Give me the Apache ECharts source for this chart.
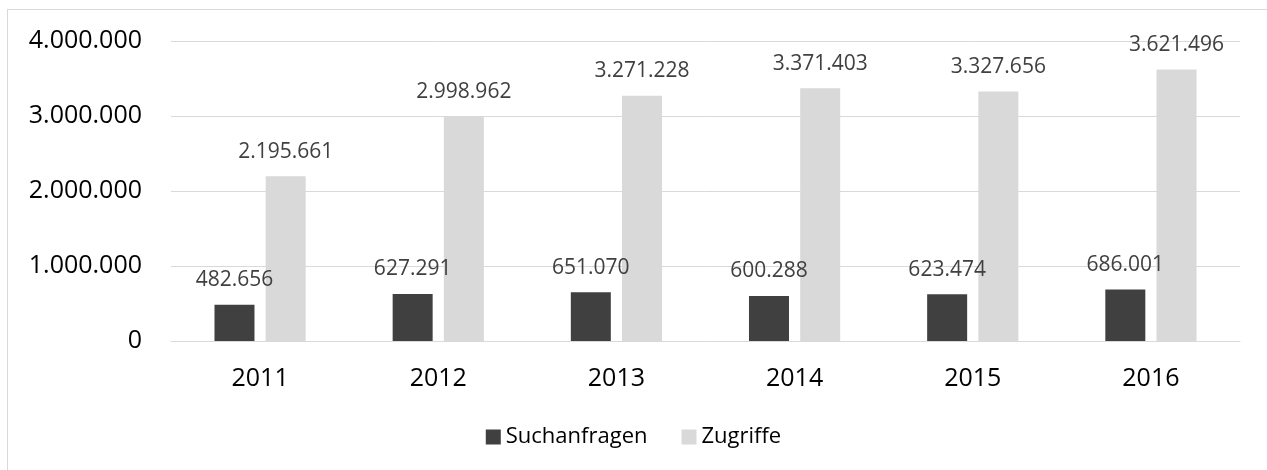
<!DOCTYPE html>
<html>
<head>
<meta charset="utf-8">
<script src="https://cdn.jsdelivr.net/npm/echarts@6/dist/echarts.min.js"></script>
<style>
  html, body { margin: 0; padding: 0; background: #fff; }
  #frame { position: absolute; left: 7px; top: 9px; width: 1300px; height: 520px; border: 1px solid #d9d9d9; }
  #main { position: absolute; left: 0; top: 0; width: 1267px; height: 470px; }
</style>
</head>
<body>
<div id="frame"></div>
<div id="main"></div>
<script>
var years = ['2011', '2012', '2013', '2014', '2015', '2016'];
var suchanfragen = [482656, 627291, 651070, 600288, 623474, 686001];
var zugriffe = [2195661, 2998962, 3271228, 3371403, 3327656, 3621496];

function fmt(v) {
  return String(v).replace(/\B(?=(\d{3})+(?!\d))/g, '.');
}

var font = 'Open Sans';
var chart = echarts.init(document.getElementById('main'));

var labelStyle = {
  show: true,
  position: 'top',
  distance: 14,
  color: '#404040',
  fontSize: 21,
  fontFamily: font,
  formatter: function (p) { return fmt(p.value); }
};

var option = {
  animation: false,
  grid: { left: 171, right: 27, top: 41, bottom: 129 },
  legend: {
    bottom: 17,
    left: 'center',
    itemWidth: 15,
    itemHeight: 15,
    itemGap: 34,
    icon: 'rect',
    textStyle: { fontSize: 22, color: '#000', fontFamily: font },
    data: ['Suchanfragen', 'Zugriffe']
  },
  xAxis: {
    type: 'category',
    data: years,
    axisLine: { lineStyle: { color: '#d9d9d9' } },
    axisTick: { show: false },
    axisLabel: { fontSize: 25, color: '#000', fontFamily: font, margin: 25 }
  },
  yAxis: {
    type: 'value',
    min: 0,
    max: 4000000,
    interval: 1000000,
    axisLine: { show: false },
    axisTick: { show: false },
    splitLine: { lineStyle: { color: '#d9d9d9' } },
    axisLabel: {
      fontSize: 25, color: '#000', fontFamily: font, margin: 29,
      formatter: function (v) { return fmt(v); }
    }
  },
  series: [
    {
      name: 'Suchanfragen',
      type: 'bar',
      data: suchanfragen,
      barWidth: 40,
      barGap: '28%',
      itemStyle: { color: '#404040' },
      label: labelStyle
    },
    {
      name: 'Zugriffe',
      type: 'bar',
      data: zugriffe,
      barWidth: 40,
      itemStyle: { color: '#d9d9d9' },
      label: labelStyle
    }
  ]
};

chart.setOption(option);
</script>
</body>
</html>
